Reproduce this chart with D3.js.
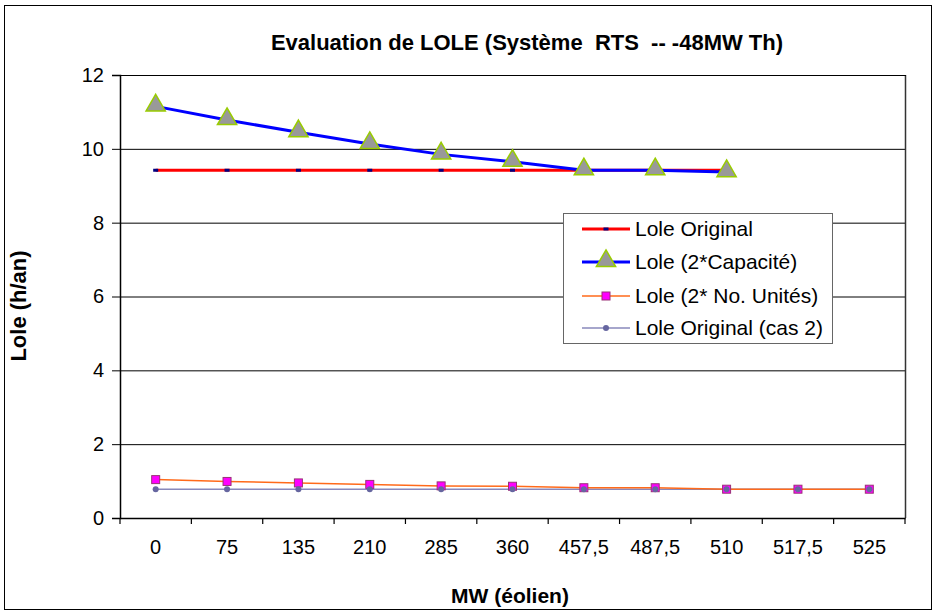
<!DOCTYPE html>
<html><head><meta charset="utf-8">
<script src="https://cdn.jsdelivr.net/npm/d3@7"></script>
<style>body{margin:0;background:#fff}svg{display:block;font-family:Arial,"Liberation Sans",sans-serif}</style>
</head><body>
<svg id="c" width="935" height="612"></svg>
<script>
const categories = ["0","75","135","210","285","360","457,5","487,5","510","517,5","525"];
const loleOriginal = [9.42,9.42,9.42,9.42,9.42,9.42,9.42,9.42,9.42];
const lole2Cap = [11.15,10.78,10.45,10.13,9.85,9.65,9.42,9.42,9.37];
const lole2Units = [1.04,0.99,0.95,0.91,0.87,0.86,0.82,0.82,0.78,0.78,0.78];
const loleOrigCas2 = [0.78,0.78,0.78,0.78,0.78,0.78,0.78,0.78,0.78,0.78,0.78];
const yTicks = [0,2,4,6,8,10,12];
const seriesNames = ["Lole Original","Lole (2*Capacité)","Lole (2* No. Unités)","Lole Original (cas 2)"];

const FF = "Arial, Liberation Sans, sans-serif";
const svg = d3.select("#c");
const L=120,R=905,T=75,B=518;
svg.append("rect").attr("x",4.5).attr("y",5.5).attr("width",927).attr("height",604).attr("fill","#fff").attr("stroke","#000").attr("stroke-width",1);

const x = d3.scaleBand().domain(categories).range([L,R]);
const y = d3.scaleLinear().domain([0,12]).range([B,T]);

// gridlines
svg.append("g").selectAll("line").data(yTicks.filter(d=>d>0)).join("line")
 .attr("x1",L).attr("x2",R).attr("y1",d=>y(d)+0.5).attr("y2",d=>y(d)+0.5).attr("stroke","#000").attr("stroke-width",1);
// plot border right
svg.append("line").attr("x1",R+0.5).attr("x2",R+0.5).attr("y1",T).attr("y2",B).attr("stroke","#333").attr("stroke-width",1.5);

// axes
const ya = svg.append("g").attr("transform",`translate(${L},0)`).call(d3.axisLeft(y).tickValues(yTicks).tickSize(8).tickPadding(8));
ya.select(".domain").attr("stroke","#000").attr("stroke-width",1.5);
ya.selectAll("text").attr("font-size",20).attr("fill","#000").attr("font-family",FF);
const xa = svg.append("g").attr("transform",`translate(0,${B})`).call(d3.axisBottom(x).tickSize(0).tickPadding(22));
xa.select(".domain").attr("stroke","#000").attr("stroke-width",1.5);
xa.selectAll("text").attr("font-size",20).attr("fill","#000").attr("font-family",FF);
// x band ticks
const bounds = categories.map(c=>x(c)).concat([R]);
svg.append("g").selectAll("line").data(bounds).join("line")
 .attr("x1",d=>d).attr("x2",d=>d).attr("y1",B).attr("y2",B+6).attr("stroke","#000").attr("stroke-width",1.2);

const cx = i => x(categories[i]) + x.bandwidth()/2;
const lineGen = d3.line().x((d,i)=>cx(i)).y(d=>y(d));

// series 4 purple
svg.append("path").datum(loleOrigCas2).attr("d",lineGen).attr("fill","none").attr("stroke","#8888bb").attr("stroke-width",1.5);
// series 3 orange
svg.append("path").datum(lole2Units).attr("d",lineGen).attr("fill","none").attr("stroke","#ff6a1a").attr("stroke-width",1.5);
svg.append("g").selectAll("rect").data(lole2Units).join("rect")
 .attr("x",(d,i)=>cx(i)-4).attr("y",d=>y(d)-4).attr("width",8).attr("height",8)
 .attr("fill","#ff00ff").attr("stroke","#993377").attr("stroke-width",1);
svg.append("g").selectAll("circle").data(loleOrigCas2).join("circle")
 .attr("cx",(d,i)=>cx(i)).attr("cy",d=>y(d)).attr("r",3).attr("fill","#6666a0");
// series 1 red
svg.append("path").datum(loleOriginal).attr("d",lineGen).attr("fill","none").attr("stroke","#ff0000").attr("stroke-width",3);
// series 2 blue
svg.append("path").datum(lole2Cap).attr("d",lineGen).attr("fill","none").attr("stroke","#0000ff").attr("stroke-width",3);
svg.append("g").selectAll("rect").data(loleOriginal).join("rect")
 .attr("x",(d,i)=>cx(i)-2.5).attr("y",d=>y(d)-1.5).attr("width",5).attr("height",3).attr("fill","#000080");
const tri = d3.symbol().type(d3.symbolTriangle).size(160);
svg.append("g").selectAll("path").data(lole2Cap).join("path")
 .attr("d",tri).attr("transform",(d,i)=>`translate(${cx(i)},${y(d)-1})`)
 .attr("fill","#999999").attr("stroke","#99cc00").attr("stroke-width",1.5);

// top border of plot
svg.append("line").attr("x1",L).attr("x2",R+1).attr("y1",T+0.5).attr("y2",T+0.5).attr("stroke","#000").attr("stroke-width",1.2);

// title & axis labels
svg.append("text").attr("x",527).attr("y",50).attr("text-anchor","middle").attr("font-size",22).attr("font-weight","bold").attr("xml:space","preserve").text("Evaluation de LOLE (Système  RTS  -- -48MW Th)");
svg.append("text").attr("x",510).attr("y",603).attr("text-anchor","middle").attr("font-size",21).attr("font-weight","bold").text("MW (éolien)");
svg.append("text").attr("transform","translate(26,306) rotate(-90)").attr("text-anchor","middle").attr("font-size",22).attr("font-weight","bold").text("Lole (h/an)");

// legend
const lg = svg.append("g");
lg.append("rect").attr("x",563.5).attr("y",213.5).attr("width",269).attr("height",130).attr("fill","#fff").attr("stroke","#666").attr("stroke-width",1);
const ly = [229,262,296,328];
const lx1=582,lx2=630,lm=606;
lg.append("line").attr("x1",lx1).attr("x2",lx2).attr("y1",ly[0]).attr("y2",ly[0]).attr("stroke","#ff0000").attr("stroke-width",3);
lg.append("rect").attr("x",lm-2.5).attr("y",ly[0]-1.5).attr("width",5).attr("height",3).attr("fill","#000080");
lg.append("line").attr("x1",lx1).attr("x2",lx2).attr("y1",ly[1]).attr("y2",ly[1]).attr("stroke","#0000ff").attr("stroke-width",3);
lg.append("path").attr("d",tri).attr("transform",`translate(${lm},${ly[1]-1})`).attr("fill","#999999").attr("stroke","#99cc00").attr("stroke-width",1.5);
lg.append("line").attr("x1",lx1).attr("x2",lx2).attr("y1",ly[2]).attr("y2",ly[2]).attr("stroke","#ff6a1a").attr("stroke-width",1.5);
lg.append("rect").attr("x",lm-4).attr("y",ly[2]-4).attr("width",8).attr("height",8).attr("fill","#ff00ff").attr("stroke","#993377");
lg.append("line").attr("x1",lx1).attr("x2",lx2).attr("y1",ly[3]).attr("y2",ly[3]).attr("stroke","#8888bb").attr("stroke-width",1.5);
lg.append("circle").attr("cx",lm).attr("cy",ly[3]).attr("r",3).attr("fill","#6666a0");
lg.selectAll("text.l").data(seriesNames).join("text").attr("class","l")
 .attr("x",635).attr("y",(d,i)=>ly[i]+7).attr("font-size",21).attr("fill","#000").attr("font-family",FF).text(d=>d);
</script>
</body></html>
